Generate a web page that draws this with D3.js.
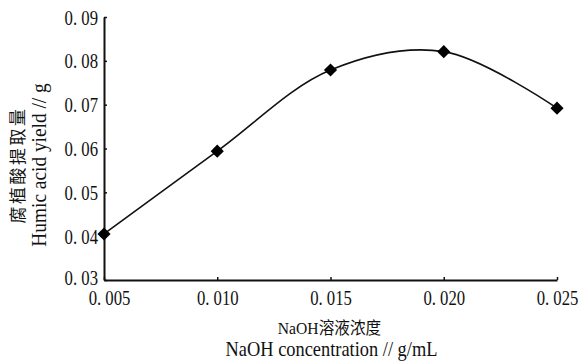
<!DOCTYPE html>
<html>
<head>
<meta charset="utf-8">
<script src="https://cdn.jsdelivr.net/npm/d3@7"></script>
<style>
  body { margin: 0; background: #fff; }
  text { font-family: "Liberation Serif", "Noto Sans CJK SC", serif; fill: #111; }
</style>
</head>
<body>
<div id="chart"></div>
<script>
// data
const naohConc = [0.005, 0.010, 0.015, 0.020, 0.025]
const humicYield = [0.0405, 0.0594, 0.0779, 0.0821, 0.0692]
const xTicks = [0.005, 0.010, 0.015, 0.020, 0.025]
const yTicks = [0.03, 0.04, 0.05, 0.06, 0.07, 0.08, 0.09]

const width = 580, height = 364
const margin = { top: 17, right: 23, bottom: 84, left: 104 }
const sx = 0.76   // the reference font is tall and narrow

const svg = d3.select("#chart").append("svg")
  .attr("width", width)
  .attr("height", height)

let x = d3.scaleLinear()
  .domain([0.005, 0.025])
  .range([margin.left, width - margin.right])

let y = d3.scaleLinear()
  .domain([0.03, 0.09])
  .range([height - margin.bottom, margin.top])

const fmt = d => d3.format(".3f")(d).replace(".", ". ")
const fmtY = d => d3.format(".2f")(d).replace(".", ". ")

// x axis, ticks pointing inward
const xAxis = svg.append("g")
  .attr("transform", "translate(0," + y(0.03) + ")")
  .call(d3.axisBottom(x).tickValues(xTicks).tickSizeInner(-3).tickSizeOuter(0).tickFormat(fmt))
xAxis.select(".domain").attr("stroke", "#111").attr("stroke-width", 2)
xAxis.selectAll(".tick line").attr("stroke", "#111").attr("stroke-width", 1.5)
xAxis.selectAll("text")
  .attr("font-size", 22)
  .attr("y", 9).attr("dy", "0.71em")
  .attr("x", (d, i) => i === 0 ? 5 / sx : 0)   // first label sits a little right of the corner
  .attr("transform", "scale(" + sx + ",1)")

// y axis
const yAxis = svg.append("g")
  .attr("transform", "translate(" + x(0.005) + ",0)")
  .call(d3.axisLeft(y).tickValues(yTicks).tickSizeInner(-3).tickSizeOuter(0).tickFormat(fmtY))
yAxis.select(".domain").attr("stroke", "#111").attr("stroke-width", 2)
yAxis.selectAll(".tick line").attr("stroke", "#111").attr("stroke-width", 1.5)
yAxis.selectAll("text")
  .attr("font-size", 22)
  .attr("x", -6 / sx)
  .attr("dy", (d, i) => i === 0 ? "0.2em" : "0.32em")
  .attr("transform", "scale(" + sx + ",1)")

const pts = naohConc.map((c, i) => [c, humicYield[i]])

const line = d3.line()
  .x(d => x(d[0]))
  .y(d => y(d[1]))
  .curve(d3.curveCatmullRom.alpha(0.5))

svg.append("path")
  .datum(pts)
  .attr("d", line)
  .attr("fill", "none")
  .attr("stroke", "#111")
  .attr("stroke-width", 1.6)

svg.append("g")
  .selectAll("path")
  .data(pts)
  .enter()
  .append("path")
  .attr("d", d3.symbol().type(d3.symbolDiamond2).size(110))
  .attr("transform", d => "translate(" + x(d[0]) + "," + y(d[1]) + ")")
  .attr("fill", "#000")

// axis titles
const cx = x(0.015)
svg.append("text")
  .attr("transform", "translate(" + (cx - 1) + ",334) scale(0.92,1)")
  .attr("text-anchor", "middle").attr("font-size", 17)
  .text("NaOH溶液浓度")
svg.append("text")
  .attr("transform", "translate(" + (cx + 1) + ",356) scale(0.92,1)")
  .attr("text-anchor", "middle").attr("font-size", 20)
  .text("NaOH concentration // g/mL")

const cy = 165
svg.append("text")
  .attr("transform", "translate(24," + cy + ") rotate(-90)")
  .attr("text-anchor", "middle").attr("font-size", 17)
  .attr("letter-spacing", 2.5)
  .text("腐植酸提取量")
svg.append("text")
  .attr("transform", "translate(46," + cy + ") rotate(-90) scale(0.88,1)")
  .attr("text-anchor", "middle").attr("font-size", 22)
  .text("Humic acid yield // g")
</script>
</body>
</html>
